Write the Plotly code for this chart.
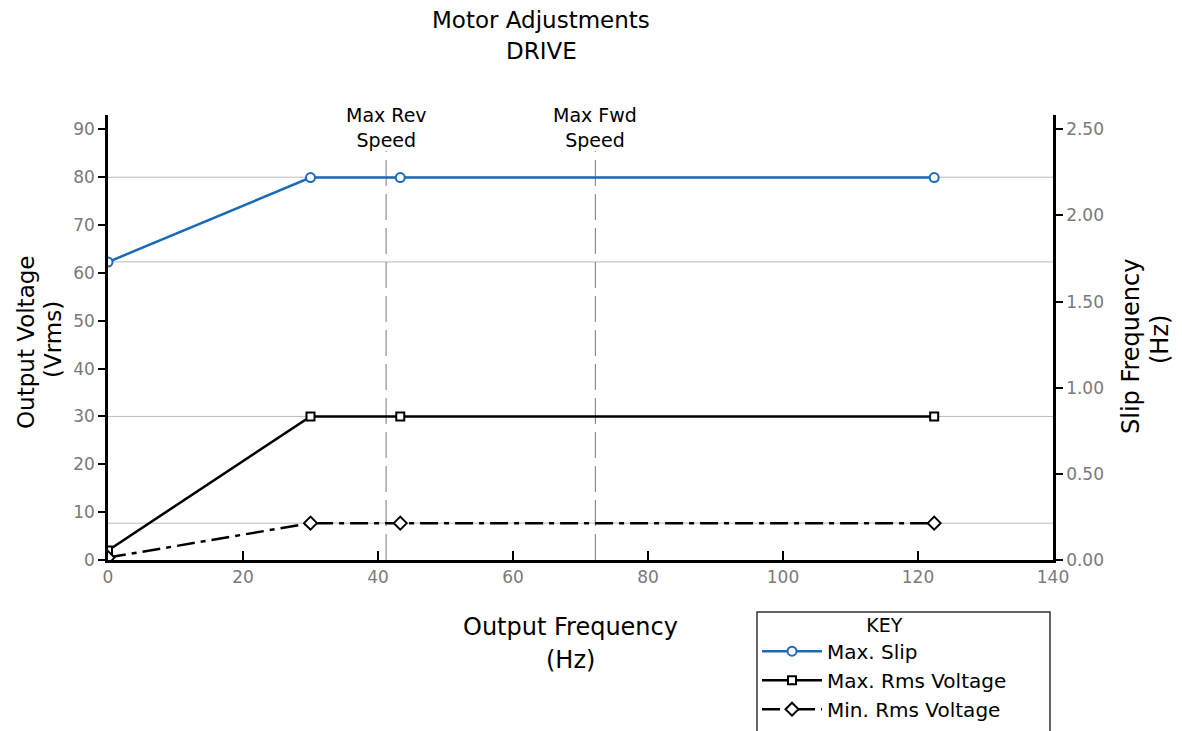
import plotly.graph_objects as go

freq = [0, 30, 43.3, 122.4]
max_slip_hz = [1.73, 2.22, 2.22, 2.22]
max_rms_v = [2, 30, 30, 30]
min_rms_v = [0.5, 7.7, 7.7, 7.7]
ref_levels = [80, 62.3, 30, 7.7]
speed_marks = [41.2, 72.2]
speed_labels = ["Max Rev<br>Speed", "Max Fwd<br>Speed"]
x_ticks = [0, 20, 40, 60, 80, 100, 120, 140]
y_ticks = [0, 10, 20, 30, 40, 50, 60, 70, 80, 90]
y2_ticks = [0, 0.5, 1.0, 1.5, 2.0, 2.5]

FONT = "DejaVu Sans"
BLUE = "#1b6ab5"
GRAY = "#7a7a7a"

OFF = 8  # page body margin
L, R, T, B = 108, 1053, 115, 560   # plot area in screen pixels
W, H = 1182 - OFF, 731 - OFF


def px(x):
    return (x - L) / (R - L)


def py(y):
    return (B - y) / (B - T)


fig = go.Figure()

fig.add_trace(go.Scatter(
    x=freq, y=max_slip_hz, yaxis="y2", name="Max. Slip", mode="lines+markers",
    line=dict(color=BLUE, width=2.5),
    marker=dict(symbol="circle", size=9, color="white", line=dict(color=BLUE, width=2))))
fig.add_trace(go.Scatter(
    x=freq, y=max_rms_v, name="Max. Rms Voltage", mode="lines+markers",
    line=dict(color="black", width=2.5),
    marker=dict(symbol="square", size=8, color="white", line=dict(color="black", width=2))))
fig.add_trace(go.Scatter(
    x=freq, y=min_rms_v, name="Min. Rms Voltage", mode="lines+markers",
    line=dict(color="black", width=2.5, dash="18px,6px,5px,6px"),
    marker=dict(symbol="diamond", size=10, color="white", line=dict(color="black", width=2))))

for lv in ref_levels:
    fig.add_shape(type="line", xref="x", yref="y", x0=0, x1=140, y0=lv, y1=lv,
                  line=dict(color="#bbbbbb", width=1), layer="below")

for xm, lab in zip(speed_marks, speed_labels):
    fig.add_shape(type="line", xref="x", yref="y", x0=xm, x1=xm, y0=0, y1=85.5,
                  line=dict(color=GRAY, width=1, dash="26px,8px"), layer="below")
    fig.add_annotation(x=xm, y=py(153), xref="x", yref="paper", text=lab, showarrow=False,
                       font=dict(family=FONT, size=19, color="black"), yanchor="bottom")

# legend ("KEY") frame
fig.add_shape(type="rect", xref="paper", yref="paper",
              x0=px(757), x1=px(1050), y0=py(612), y1=py(740),
              line=dict(color="#333333", width=1.5), fillcolor="rgba(0,0,0,0)", layer="above")


def text(x, y, s, size, angle=0):
    fig.add_annotation(x=px(x), y=py(y), xref="paper", yref="paper", text=s, showarrow=False,
                       textangle=angle, xanchor="center", yanchor="middle",
                       font=dict(family=FONT, size=size, color="black"))


text(541, 20, "Motor Adjustments", 23)
text(541, 51, "DRIVE", 23)
text(570, 627, "Output Frequency", 24)
text(570, 660, "(Hz)", 24)
text(26, 343, "Output Voltage", 23, -90)
text(53, 340, "(Vrms)", 23, -90)
text(1131, 347, "Slip Frequency", 24, -90)
text(1160, 340, "(Hz)", 24, -90)

fig.update_layout(
    width=W, height=H,
    margin=dict(l=L - OFF, r=W - (R - OFF), t=T - OFF, b=H - (B - OFF), autoexpand=False),
    plot_bgcolor="white", paper_bgcolor="white",
    font=dict(family=FONT, color="black"),
    xaxis=dict(range=[0, 140], tickvals=x_ticks, ticks="inside", ticklen=9, tickwidth=2,
               tickcolor="black", showline=True, linecolor="black", linewidth=2.5,
               showgrid=False, zeroline=False, automargin=False,
               tickfont=dict(family=FONT, size=17, color=GRAY)),
    yaxis=dict(range=[0, 93], tickvals=y_ticks, ticks="outside", ticklen=7, tickwidth=2,
               tickcolor="black", showline=True, linecolor="black", linewidth=2.5,
               showgrid=False, zeroline=False, automargin=False,
               tickfont=dict(family=FONT, size=17, color=GRAY)),
    yaxis2=dict(range=[0, 93 * 2.5 / 90], overlaying="y", side="right", tickvals=y2_ticks,
                tickformat=".2f", ticks="outside", ticklen=7, tickwidth=2, tickcolor="black",
                showline=True, linecolor="black", linewidth=2.5, showgrid=False, zeroline=False,
                automargin=False,
                tickfont=dict(family=FONT, size=17, color=GRAY)),
    legend=dict(x=px(757), y=py(607), xanchor="left", yanchor="top",
                borderwidth=0, bgcolor="rgba(0,0,0,0)",
                font=dict(family=FONT, size=20, color="black"),
                title=dict(text="KEY", side="top center", font=dict(family=FONT, size=19, color="black")),
                tracegroupgap=0, itemwidth=60),
    showlegend=True,
)

fig.write_html("out.html")
